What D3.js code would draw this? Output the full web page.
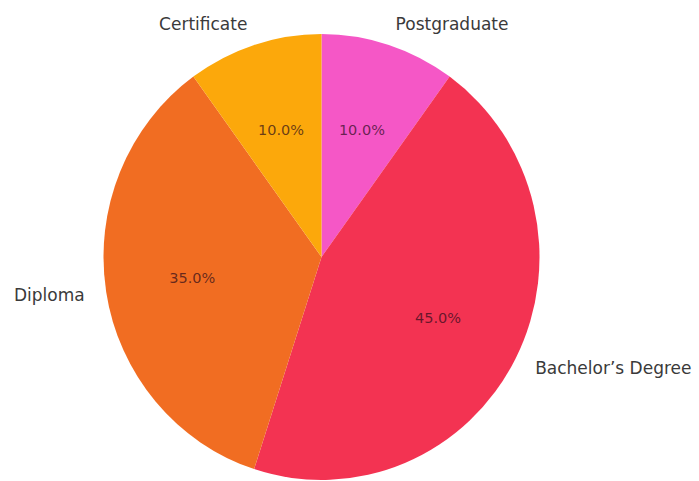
<!DOCTYPE html>
<html>
<head>
<meta charset="utf-8">
<script src="https://cdn.jsdelivr.net/npm/d3@7"></script>
<style>
  html, body { margin: 0; padding: 0; background: #ffffff; }
  svg { display: block; }
</style>
</head>
<body>
<svg id="chart" width="699" height="481"></svg>
<script>
// Education levels, in the order they are laid out clockwise from 12 o'clock
const categories = ["Postgraduate", "Bachelor\u2019s Degree", "Diploma", "Certificate"];
const shares = [10, 45, 35, 10];
const sliceColors = ["#f557c6", "#f33352", "#f16d22", "#fca80b"];

const width = 699, height = 481;
const cx = 321.5, cy = 257;
const rx = 218, ry = 223;   // pie is drawn slightly taller than wide

const svg = d3.select("#chart");

const pie = d3.pie().sort(null).value(d => d)
  .startAngle(0).endAngle(2 * Math.PI);
const arcs = pie(shares);

const arc = d3.arc().innerRadius(0).outerRadius(ry);

const g = svg.append("g")
  .attr("transform", `translate(${cx},${cy}) scale(${rx / ry},1)`);

g.selectAll("path.slice")
  .data(arcs)
  .join("path")
  .attr("class", "slice")
  .attr("d", arc)
  .attr("fill", (d, i) => sliceColors[i]);

// point on the ellipse at a given fraction of the radius
function pos(angle, f) {
  return [cx + f * rx * Math.sin(angle), cy - f * ry * Math.cos(angle)];
}

const labels = svg.append("g");

// category labels just outside the rim
arcs.forEach((d, i) => {
  const mid = (d.startAngle + d.endAngle) / 2;
  const [x, y] = pos(mid, 1.1);
  labels.append("text")
    .attr("x", x)
    .attr("y", y)
    .attr("text-anchor", Math.sin(mid) >= 0 ? "start" : "end")
    .attr("dominant-baseline", "central")
    .attr("font-family", "DejaVu Sans, sans-serif")
    .attr("font-size", 17)
    .attr("fill", "#3a3a3a")
    .text(categories[i]);
});

// percentage labels inside each slice
const total = d3.sum(shares);
arcs.forEach((d, i) => {
  const mid = (d.startAngle + d.endAngle) / 2;
  const [x, y] = pos(mid, 0.6);
  labels.append("text")
    .attr("x", x)
    .attr("y", y)
    .attr("text-anchor", "middle")
    .attr("dominant-baseline", "central")
    .attr("font-family", "DejaVu Sans, sans-serif")
    .attr("font-size", 14.5)
    .attr("fill", "#2a0a1a")
    .attr("fill-opacity", 0.7)
    .text((shares[i] / total * 100).toFixed(1) + "%");
});
</script>
</body>
</html>
